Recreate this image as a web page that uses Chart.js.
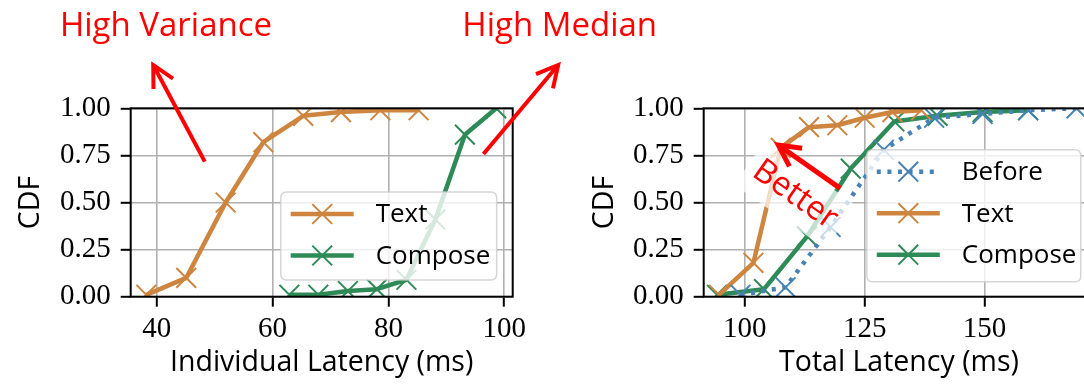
<!DOCTYPE html>
<html>
<head>
<meta charset="utf-8">
<script src="https://cdn.jsdelivr.net/npm/chart.js@4.4.1/dist/chart.umd.min.js"></script>
<style>
  html, body { margin: 0; padding: 0; background: #fff; overflow: hidden; width: 1084px; height: 384px; }
  canvas { position: absolute; left: 0; top: 0; }
</style>
</head>
<body>
<canvas id="chartIndiv" width="1084" height="384"></canvas>
<canvas id="chartTotal" width="1120" height="384"></canvas>
<script>
// dados (CDF da latência)
const indivTextX = [38.2, 45.1, 51.9, 58.4, 65.3, 71.8, 78.6, 85.2];
const indivTextY = [0.01, 0.10, 0.50, 0.82, 0.96, 0.98, 0.99, 0.99];
const indivComposeX = [62.9, 67.9, 73.0, 78.0, 83.1, 88.1, 93.2, 98.6];
const indivComposeY = [0.01, 0.01, 0.03, 0.04, 0.09, 0.41, 0.86, 1.00];

const totalBeforeX = [99.1, 108.5, 117.9, 129.0, 139.5, 149.6, 159.1, 169.2];
const totalBeforeY = [0.01, 0.05, 0.37, 0.78, 0.95, 0.97, 0.99, 1.00];
const totalTextX = [94.6, 101.8, 107.5, 113.4, 119.3, 125.0, 130.8, 136.8];
const totalTextY = [0.01, 0.18, 0.79, 0.90, 0.91, 0.95, 0.98, 0.99];
const totalComposeX = [94.2, 104.0, 113.0, 122.1, 131.2, 140.2, 149.6, 159.1];
const totalComposeY = [0.01, 0.04, 0.32, 0.68, 0.93, 0.96, 0.98, 0.99];

const indivXTicks = [40, 60, 80, 100];
const totalXTicks = [100, 125, 150];
const cdfTicks = [0, 0.25, 0.5, 0.75, 1];

const corTexto = '#cd853f';
const corCompose = '#2e8b57';
const corBefore = '#4682b4';
const vermelho = '#ff0000';

const fonteSans = 'Open Sans';
const fonteSerif = 'Liberation Serif';

function pontos(xs, ys) {
    return xs.map(function(x, i) { return { x: x, y: ys[i] }; });
}

function serie(label, xs, ys, cor, tracejado) {
    return {
        label: label,
        data: pontos(xs, ys),
        showLine: true,
        borderColor: cor,
        backgroundColor: cor,
        borderWidth: 4.5,
        borderDash: tracejado || [],
        borderJoinStyle: 'round',
        pointStyle: 'crossRot',
        pointRadius: 14,
        pointHoverRadius: 14,
        pointBorderWidth: 2,
        pointBorderColor: cor,
        tension: 0,
        clip: 0,
    };
}

function desenhaX(ctx, x, y, r, cor) {
    const d = r * Math.cos(Math.PI / 4);
    ctx.save();
    ctx.strokeStyle = cor;
    ctx.lineWidth = 2;
    ctx.setLineDash([]);
    ctx.beginPath();
    ctx.moveTo(x - d, y - d); ctx.lineTo(x + d, y + d);
    ctx.moveTo(x - d, y + d); ctx.lineTo(x + d, y - d);
    ctx.stroke();
    ctx.restore();
}

function seta(ctx, x0, y0, x1, y1, lw) {
    const ang = Math.atan2(y0 - y1, x0 - x1);
    const L = 24, abre = 0.48;
    ctx.save();
    ctx.strokeStyle = vermelho;
    ctx.lineWidth = lw;
    ctx.lineCap = 'butt';
    ctx.lineJoin = 'miter';
    ctx.beginPath();
    ctx.moveTo(x0, y0); ctx.lineTo(x1, y1);
    ctx.stroke();
    ctx.beginPath();
    ctx.moveTo(x1 + L * Math.cos(ang + abre), y1 + L * Math.sin(ang + abre));
    ctx.lineTo(x1, y1);
    ctx.lineTo(x1 + L * Math.cos(ang - abre), y1 + L * Math.sin(ang - abre));
    ctx.stroke();
    ctx.restore();
}

function caixaArredondada(ctx, x, y, w, h, r) {
    ctx.beginPath();
    ctx.moveTo(x + r, y);
    ctx.lineTo(x + w - r, y); ctx.quadraticCurveTo(x + w, y, x + w, y + r);
    ctx.lineTo(x + w, y + h - r); ctx.quadraticCurveTo(x + w, y + h, x + w - r, y + h);
    ctx.lineTo(x + r, y + h); ctx.quadraticCurveTo(x, y + h, x, y + h - r);
    ctx.lineTo(x, y + r); ctx.quadraticCurveTo(x, y, x + r, y);
    ctx.closePath();
}

// moldura, legenda e anotações em vermelho
const pluginExtras = {
    id: 'extras',
    afterDatasetsDraw(chart, args, opts) {
        const ctx = chart.ctx, a = chart.chartArea;
        ctx.save();
        ctx.strokeStyle = '#000';
        ctx.lineWidth = 2;
        ctx.strokeRect(a.left, a.top, a.right - a.left, a.bottom - a.top);
        ctx.restore();
    },
    afterDraw(chart, args, opts) {
        const ctx = chart.ctx, a = chart.chartArea;
        const sx = chart.scales.x, sy = chart.scales.y;

        // texto (com caixa branca quando girado)
        (opts.textos || []).forEach(function(t) {
            const x = sx.getPixelForValue(t.x), y = sy.getPixelForValue(t.y);
            ctx.save();
            ctx.translate(x, y);
            ctx.rotate(t.rot || 0);
            ctx.font = t.size + 'px "Open Sans"';
            if (t.caixa) {
                const w = ctx.measureText(t.text).width + 16;
                const h = t.size * 1.25 + 12;
                ctx.fillStyle = 'rgba(255,255,255,0.72)';
                caixaArredondada(ctx, -w / 2, -h / 2, w, h, 6);
                ctx.fill();
            }
            ctx.fillStyle = vermelho;
            ctx.textAlign = 'center';
            ctx.textBaseline = t.caixa ? 'middle' : 'alphabetic';
            ctx.fillText(t.text, 0, 0);
            ctx.restore();
        });

        (opts.setas || []).forEach(function(s) {
            seta(ctx, sx.getPixelForValue(s.de[0]), sy.getPixelForValue(s.de[1]),
                 sx.getPixelForValue(s.para[0]), sy.getPixelForValue(s.para[1]), s.lw || 4);
        });

        // legenda (canto inferior direito)
        const lg = opts.legenda;
        if (lg) {
            const bx = a.right - lg.insetX - lg.w, by = a.bottom - lg.insetY - lg.h;
            ctx.save();
            caixaArredondada(ctx, bx, by, lg.w, lg.h, 6);
            ctx.fillStyle = 'rgba(255,255,255,0.8)';
            ctx.fill();
            ctx.strokeStyle = 'rgba(204,204,204,0.8)';
            ctx.lineWidth = 1.5;
            ctx.stroke();
            chart.data.datasets.forEach(function(ds, i) {
                const y = by + 22 + i * 41.5;
                const x0 = bx + 10, x1 = bx + 73;
                ctx.strokeStyle = ds.borderColor;
                ctx.lineWidth = 4.5;
                ctx.setLineDash(ds.borderDash || []);
                ctx.beginPath();
                ctx.moveTo(x0, y); ctx.lineTo(x1, y);
                ctx.stroke();
                ctx.setLineDash([]);
                desenhaX(ctx, (x0 + x1) / 2, y, 14, ds.borderColor);
                ctx.fillStyle = '#000';
                ctx.font = '26px "' + fonteSans + '"';
                ctx.textAlign = 'left';
                ctx.textBaseline = 'middle';
                ctx.fillText(ds.label, bx + 95, y + 1);
            });
            ctx.restore();
        }
    }
};

function opcoes(xMin, xMax, xTicks, xTitulo, padding, larguraY, extras) {
    return {
        responsive: false,
        animation: false,
        events: [],
        layout: { padding: padding, autoPadding: false },
        plugins: { legend: { display: false }, tooltip: { enabled: false }, extras: extras },
        scales: {
            x: {
                type: 'linear',
                min: xMin,
                max: xMax,
                afterBuildTicks: function(s) { s.ticks = xTicks.map(function(v) { return { value: v }; }); },
                afterFit: function(s) { s.height = 87.3; },
                ticks: {
                    autoSkip: false, maxRotation: 0, padding: 5, color: '#000',
                    font: { family: fonteSerif, size: 29 },
                    callback: function(v) { return String(v); }
                },
                grid: { color: '#b0b0b0', lineWidth: 1.6, tickColor: '#000', tickWidth: 2, tickLength: 10 },
                border: { display: false },
                title: {
                    display: true, text: xTitulo, color: '#000',
                    font: { family: fonteSans, size: 28.5 }, padding: { top: 0, bottom: 4 }
                }
            },
            y: {
                min: 0,
                max: 1,
                afterBuildTicks: function(s) { s.ticks = cdfTicks.map(function(v) { return { value: v }; }); },
                afterFit: function(s) { s.width = larguraY; },
                ticks: {
                    autoSkip: false, padding: 10, color: '#000',
                    font: { family: fonteSerif, size: 29 },
                    callback: function(v) { return Number(v).toFixed(2); }
                },
                grid: { color: '#b0b0b0', lineWidth: 1.6, tickColor: '#000', tickWidth: 2, tickLength: 10 },
                border: { display: false },
                title: {
                    display: true, text: 'CDF', color: '#000',
                    font: { family: fonteSans, size: 28.5 }, padding: { top: 14, bottom: 0 }
                }
            }
        }
    };
}

new Chart(document.getElementById('chartIndiv').getContext('2d'), {
    type: 'scatter',
    data: {
        datasets: [
            serie('Text', indivTextX, indivTextY, corTexto),
            serie('Compose', indivComposeX, indivComposeY, corCompose)
        ]
    },
    options: opcoes(35.51, 101.45, indivXTicks, 'Individual Latency (ms)',
        { left: 0, right: 571.3, top: 108.3, bottom: 0 }, 130.7,
        {
            legenda: { w: 216, h: 88, insetX: 16, insetY: 16.7 },
            textos: [
                { text: 'High Variance', x: 41.6, y: 1.384, size: 33 },
                { text: 'High Median', x: 109.56, y: 1.384, size: 33 }
            ],
            setas: [
                { de: [48.3, 0.717], para: [39.4, 1.23] },
                { de: [96.4, 0.757], para: [109.3, 1.23] }
            ]
        }),
    plugins: [pluginExtras]
});

new Chart(document.getElementById('chartTotal').getContext('2d'), {
    type: 'scatter',
    data: {
        datasets: [
            serie('Before', totalBeforeX, totalBeforeY, corBefore, [4, 6.6]),
            serie('Text', totalTextX, totalTextY, corTexto),
            serie('Compose', totalComposeX, totalComposeY, corCompose)
        ]
    },
    options: opcoes(91.43, 172.9, totalXTicks, 'Total Latency (ms)',
        { left: 573.7, right: 25.7, top: 108.3, bottom: 0 }, 130,
        {
            legenda: { w: 214, h: 132, insetX: 13.5, insetY: 15 },
            textos: [
                { text: 'Better', x: 110.5, y: 0.54, size: 33, rot: 35 * Math.PI / 180, caixa: true }
            ],
            setas: [
                { de: [119.9, 0.575], para: [107.0, 0.805], lw: 5 }
            ]
        }),
    plugins: [pluginExtras]
});
</script>
</body>
</html>
